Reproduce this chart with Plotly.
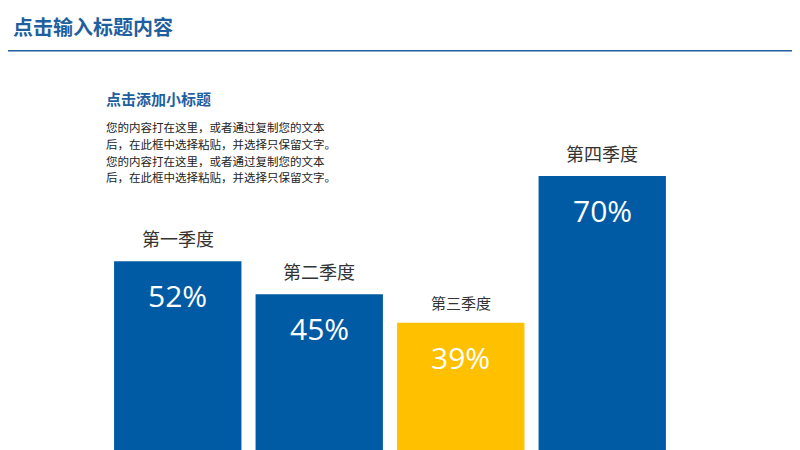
import plotly.graph_objects as go

quarters = ["第一季度", "第二季度", "第三季度", "第四季度"]
values = [52, 45, 39, 70]
colors = ["#005BA4", "#005BA4", "#FFC000", "#005BA4"]
label_sizes = [18, 18, 15, 18]
body = ["您的内容打在这里，或者通过复制您的文本", "后，在此框中选择粘贴，并选择只保留文字。",
        "您的内容打在这里，或者通过复制您的文本", "后，在此框中选择粘贴，并选择只保留文字。"]

font = "Noto Sans CJK SC"
fig = go.Figure(go.Bar(
    x=list(range(4)), y=values, marker_color=colors, marker_line_width=0,
    base=0, hoverinfo="skip"))
for i, (q, v, s) in enumerate(zip(quarters, values, label_sizes)):
    fig.add_annotation(x=i, y=v, text=q, showarrow=False, yanchor="bottom", yshift=8,
                       font=dict(size=s, color="#333333", family=font))
    fig.add_annotation(x=i, y=v, text=f"{v}%", showarrow=False, yanchor="top", yshift=-12,
                       font=dict(size=30, color="white", family="Open Sans"))
fig.add_annotation(xref="paper", yref="paper", x=-0.005, y=0.77, xanchor="left", yanchor="bottom",
                   text="<b>点击添加小标题</b>", showarrow=False, font=dict(size=15, color="#1F5FA0", family=font))
for k, line in enumerate(body):
    fig.add_annotation(xref="paper", yref="paper", x=-0.005, y=0.735 - k * 0.037, xanchor="left", yanchor="middle",
                       text=line, showarrow=False, font=dict(size=11.5, color="#222222", family=font))
fig.add_annotation(xref="paper", yref="paper", x=-0.17, y=0.995, xanchor="left", yanchor="top",
                   text="<b>点击输入标题内容</b>", showarrow=False, font=dict(size=20, color="#1F5FA0", family=font))
fig.add_shape(type="line", xref="paper", yref="paper", x0=-0.2, x1=1.3, y0=0.905, y1=0.905,
              line=dict(color="#1F5FA0", width=1.5))
fig.update_layout(width=800, height=450, margin=dict(l=99, r=135, t=0, b=0),
                  plot_bgcolor="white", paper_bgcolor="white", bargap=0.1, showlegend=False,
                  xaxis=dict(range=[-0.5, 3.5], visible=False),
                  yaxis=dict(range=[10.4, 105.5], visible=False))
fig.write_html("out.html")
